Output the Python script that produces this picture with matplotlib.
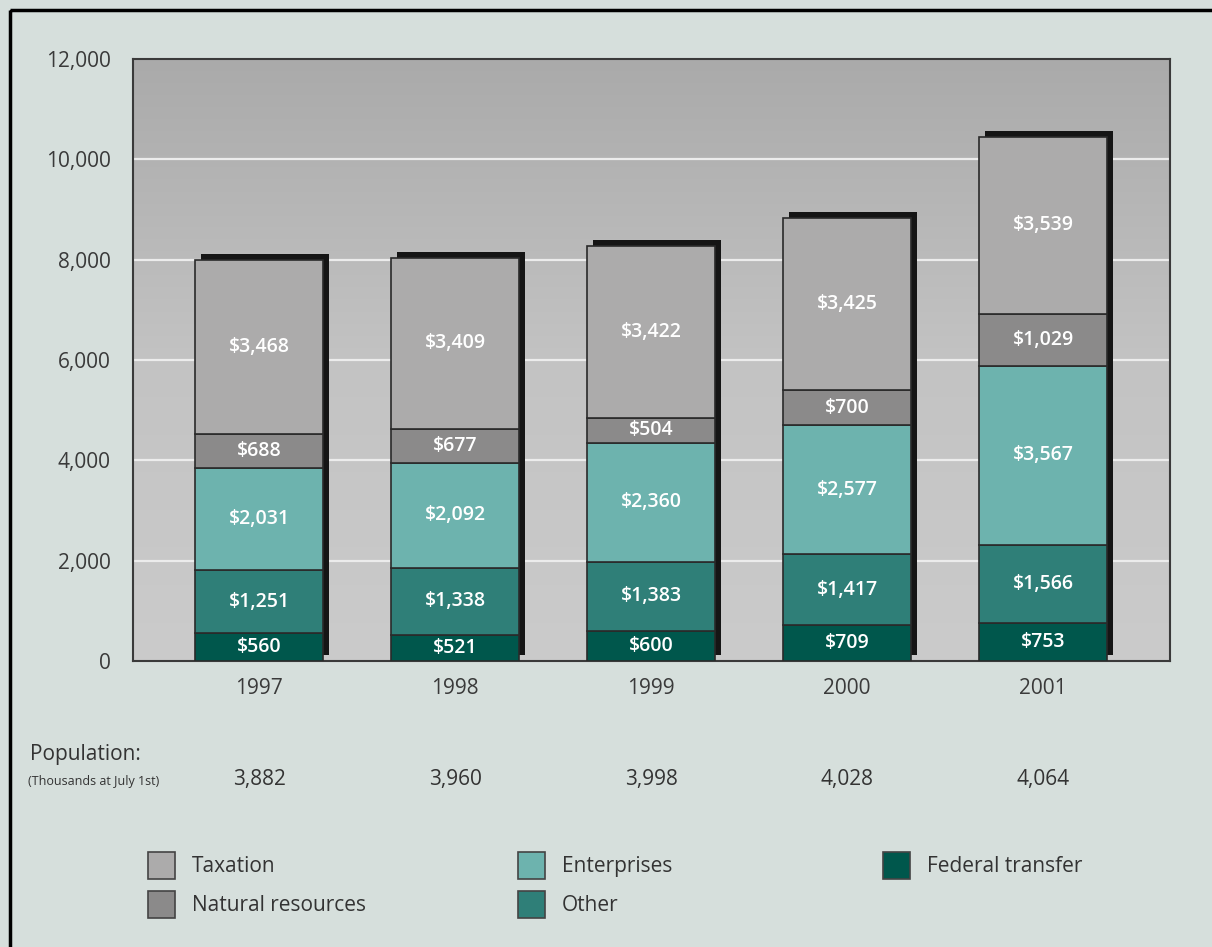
import numpy as np
import matplotlib
matplotlib.use("Agg")
import matplotlib.pyplot as plt
from matplotlib.patches import Rectangle
from matplotlib.transforms import offset_copy

plt.rcParams['font.family'] = ['Open Sans', 'DejaVu Sans']

# revenue by source, $ millions
years = ["1997", "1998", "1999", "2000", "2001"]
federal = [560, 521, 600, 709, 753]
other = [1251, 1338, 1383, 1417, 1566]
enterprises = [2031, 2092, 2360, 2577, 3567]
natural = [688, 677, 504, 700, 1029]
taxation = [3468, 3409, 3422, 3425, 3539]
population = ["3,882", "3,960", "3,998", "4,028", "4,064"]

series = [
    ("Federal transfer", federal, "#00574c"),
    ("Other", other, "#2f7f78"),
    ("Enterprises", enterprises, "#6db3ae"),
    ("Natural resources", natural, "#8b8a8a"),
    ("Taxation", taxation, "#acabab"),
]

W, H = 1212, 947
fig = plt.figure(figsize=(W / 100, H / 100), dpi=100)
fig.patch.set_facecolor("#d6dfdc")

# outer frame (pixel coords)
frame = fig.add_axes([0, 0, 1, 1], zorder=-1)
frame.set_xlim(0, W)
frame.set_ylim(H, 0)
frame.axis("off")
frame.add_patch(Rectangle((10, 10), W + 20, H + 20, fill=False, lw=2.5, ec="black"))

ax = fig.add_axes([133 / W, 1 - 661 / H, 1037 / W, 602 / H])
x = np.arange(len(years))
width = 0.65
ax.set_xlim(-0.643, 4.647)
ax.set_ylim(0, 12000)

# shaded plot background
grad = np.linspace(0, 1, 256).reshape(-1, 1)
cmap = matplotlib.colors.LinearSegmentedColormap.from_list("bg", ["#cbcbcb", "#c3c3c3", "#aaaaaa"])
ax.imshow(grad, extent=[-0.643, 4.647, 0, 12000], origin="lower", aspect="auto",
          cmap=cmap, zorder=0)
for yv in range(2000, 12000, 2000):
    ax.axhline(yv, color="#ececec", lw=1.6, zorder=1)

totals = np.sum([s[1] for s in series], axis=0)
shadow_tr = offset_copy(ax.transData, fig=fig, x=6, y=6, units="dots")
ax.bar(x, totals, width, color="#151515", transform=shadow_tr, zorder=2)

bottom = np.zeros(len(years))
for name, vals, col in series:
    vals = np.array(vals)
    ax.bar(x, vals, width, bottom=bottom, color=col, edgecolor="#2a2a2a",
           lw=1.2, zorder=3, label=name)
    for xi, b, v in zip(x, bottom, vals):
        ax.text(xi, b + v / 2, f"${v:,}", ha="center", va="center",
                color="white", fontsize=14, fontweight="semibold", zorder=4)
    bottom += vals

ax.set_yticks(range(0, 12001, 2000))
ax.set_yticklabels([f"{v:,}" for v in range(0, 12001, 2000)])
ax.set_xticks(x)
ax.set_xticklabels(years)
ax.tick_params(length=0, labelsize=15, colors="#3a3a3a", pad=12)
ax.tick_params(axis="y", pad=16)
for sp in ax.spines.values():
    sp.set_color("#3a3a3a")
    sp.set_linewidth(1.5)

# population row
fig.text(30 / W, 1 - 754 / H, "Population:", fontsize=15, color="#333333", va="center")
fig.text(28 / W, 1 - 781 / H, "(Thousands at July 1st)", fontsize=9, color="#333333", va="center")
for xi, p in zip(x, population):
    xp = ax.transData.transform((xi, 0))[0] / W
    fig.text(xp, 1 - 779 / H, p, fontsize=15, color="#333333", ha="center", va="center")

# legend
legend_items = [
    ("Taxation", "#acabab", 148, 866),
    ("Natural resources", "#8b8a8a", 148, 905),
    ("Enterprises", "#6db3ae", 518, 866),
    ("Other", "#2f7f78", 518, 905),
    ("Federal transfer", "#00574c", 883, 866),
]
for name, col, lx, ly in legend_items:
    frame.add_patch(Rectangle((lx, ly - 14), 27, 27, fc=col, ec="#444444", lw=1.2))
    frame.text(lx + 44, ly, name, fontsize=15, color="#333333", va="center")

fig.savefig("out.png", dpi=100, facecolor=fig.get_facecolor())
